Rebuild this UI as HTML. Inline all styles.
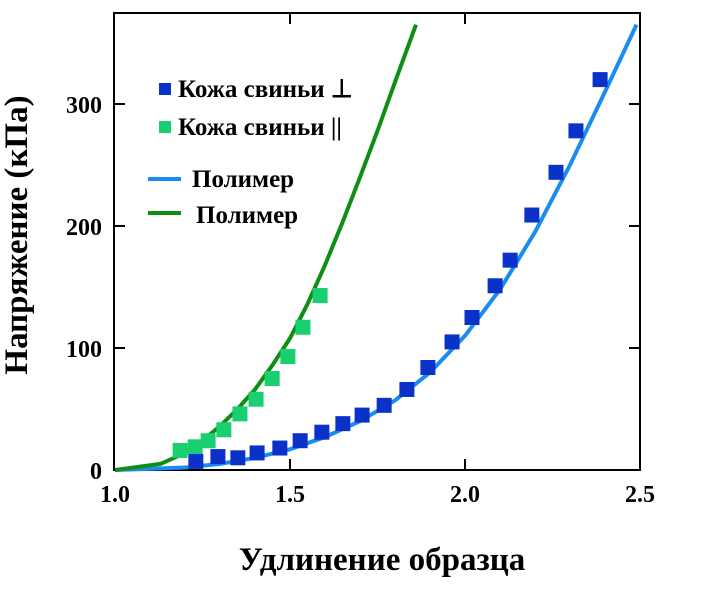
<!DOCTYPE html>
<html><head><meta charset="utf-8"><style>
html,body{margin:0;padding:0;background:#fff;}
svg{display:block;font-family:"Liberation Serif",serif;font-weight:bold;}
</style></head><body>
<svg id="chart" width="701" height="600">
<rect x="114" y="13" width="526" height="457" fill="none" stroke="#000" stroke-width="2"/>
<g id="ticks"></g><g id="lines"></g><g id="pts"></g>
<text x="27" y="235" font-size="33" text-anchor="middle" transform="rotate(-90 27 235)">Напряжение (кПа)</text>
<text x="382" y="570" font-size="33" text-anchor="middle">Удлинение образца</text>
<g font-size="25">
<rect x="159" y="83" width="12" height="12" fill="#0a32c8"/>
<text x="178" y="97">Кожа свиньи ⊥</text>
<rect x="159" y="121" width="12" height="12" fill="#18d070"/>
<text x="178" y="135">Кожа свиньи ||</text>
<line x1="148" y1="179" x2="181" y2="179" stroke="#1a8cf0" stroke-width="4"/>
<text x="192" y="187">Полимер</text>
<line x1="148" y1="213" x2="181" y2="213" stroke="#0e8f14" stroke-width="4"/>
<text x="196" y="223">Полимер</text>
</g>
</svg>
<script>
const xTicks=[1.0,1.5,2.0,2.5];
const yTicks=[0,100,200,300];
const perpX=[1.231,1.294,1.351,1.406,1.471,1.529,1.591,1.651,1.706,1.769,1.834,1.894,1.963,2.02,2.086,2.129,2.191,2.26,2.317,2.386];
const perpY=[7,11,10,14,18,24,31,38,45,53,66,84,105,125,151,172,209,244,278,320];
const parX=[1.186,1.229,1.266,1.311,1.357,1.403,1.449,1.494,1.537,1.586];
const parY=[16,19,24,33,46,58,75,93,117,143];
const blueLineX=[1.0,1.2,1.3,1.4,1.5,1.6,1.7,1.8,1.9,2.0,2.1,2.2,2.3,2.4,2.49];
const blueLineY=[0,2,5,10,17,27,40,57,80,110,148,195,250,310,365];
const greenLineX=[1.0,1.13,1.2,1.25,1.3,1.35,1.4,1.45,1.5,1.55,1.6,1.65,1.7,1.75,1.8,1.86];
const greenLineY=[0,5,14,24,36,50,66,86,108,136,168,203,240,278,318,365];
const ns="http://www.w3.org/2000/svg";
const sx=v=>115+(v-1)*350, sy=v=>470-v*1.22;
function mk(tag,attrs,parent){const e=document.createElementNS(ns,tag);for(const k in attrs)e.setAttribute(k,attrs[k]);document.getElementById(parent).appendChild(e);return e;}
xTicks.forEach(t=>{
 const l=mk('text',{x:sx(t),y:502,'font-size':24,'text-anchor':'middle'},'ticks');l.textContent=t.toFixed(1);
 
 
 if(t>1&&t<2.5){
  const a=mk('line',{x1:sx(t),y1:470,x2:sx(t),y2:459,stroke:'#000','stroke-width':2},'ticks');
  
  
  const b=mk('line',{x1:sx(t),y1:13,x2:sx(t),y2:24,stroke:'#000','stroke-width':2},'ticks');
  
  
 }
});
yTicks.forEach(t=>{
 const l=mk('text',{x:102,y:sy(t)+9,'font-size':24,'text-anchor':'end'},'ticks');l.textContent=t;
 
 
 if(t>0){
  const a=mk('line',{x1:114,y1:sy(t),x2:125,y2:sy(t),stroke:'#000','stroke-width':2},'ticks');
  
  
  const b=mk('line',{x1:640,y1:sy(t),x2:629,y2:sy(t),stroke:'#000','stroke-width':2},'ticks');
  
  
 }
});
function line(xs,ys,c,name){
 const p=mk('polyline',{points:xs.map((x,i)=>sx(x)+','+sy(ys[i])).join(' '),fill:'none',stroke:c,'stroke-width':4,'stroke-linejoin':'round'},'lines');
 
 
}
line(blueLineX,blueLineY,'#1a8cf0','polymer-line-blue');
line(greenLineX,greenLineY,'#0e8f14','polymer-line-green');
function pts(xs,ys,c,name){
 xs.forEach((x,i)=>{
  const r=mk('rect',{x:sx(x)-7.5,y:sy(ys[i])-7.5,width:15,height:15,fill:c},'pts');
  
  
 });
}
pts(parX,parY,'#18d070','pig-skin-parallel-point');
pts(perpX,perpY,'#0a32c8','pig-skin-perp-point');
</script>
</body></html>
